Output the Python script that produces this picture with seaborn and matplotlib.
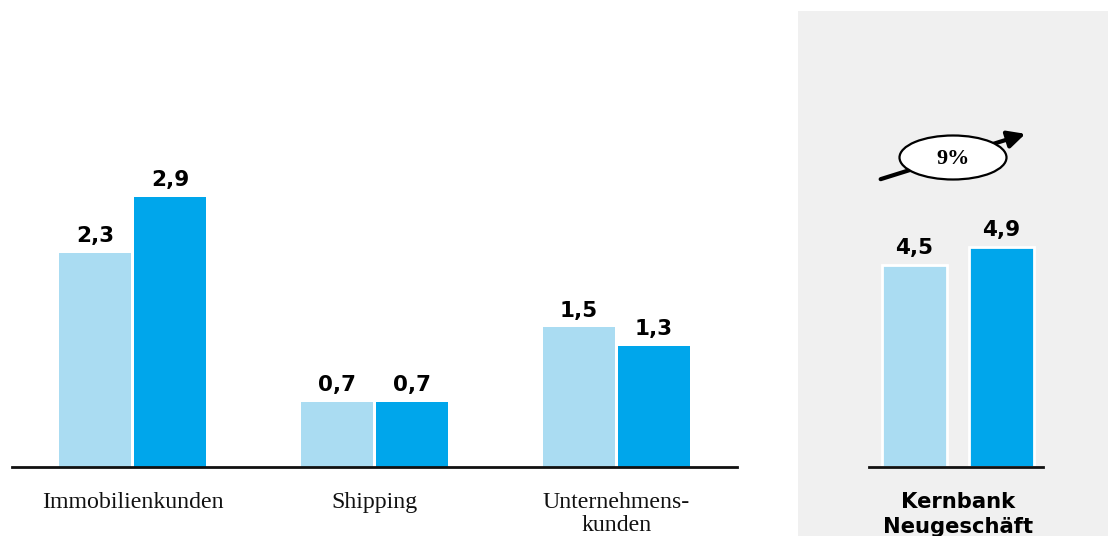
import matplotlib
matplotlib.use("Agg")
import matplotlib.pyplot as plt
from matplotlib.patches import Rectangle, Ellipse, FancyArrowPatch
import seaborn as sns
import pandas as pd

# ---- data ----
categories = ["Immobilienkunden", "Shipping", "Unternehmens-\nkunden"]
periods = ["Vorjahr", "Berichtsjahr"]
values_prev = [2.3, 0.7, 1.5]
values_curr = [2.9, 0.7, 1.3]
core_category = "Kernbank\nNeugeschäft"
core_values = [4.5, 4.9]
growth_label = "9%"

colors = ["#aadcf2", "#00a6eb"]

df_left = pd.DataFrame({
    "Kategorie": categories * 2,
    "Periode": [periods[0]] * 3 + [periods[1]] * 3,
    "Wert": values_prev + values_curr,
})
df_right = pd.DataFrame({
    "Kategorie": [core_category] * 2,
    "Periode": periods,
    "Wert": core_values,
})

sns.set_style("white")
W, H = 1111, 536
fig = plt.figure(figsize=(W / 100, H / 100), dpi=100)
fig.patch.set_facecolor("white")

# grey panel behind the right chart
fig.patches.append(Rectangle((798 / W, 0), (1108 - 798) / W, (H - 11) / H,
                             transform=fig.transFigure, facecolor="#f0f0f0",
                             edgecolor="none", zorder=-5))

def fmt(v):
    return f"{v:.1f}".replace(".", ",")

val_font = dict(family="DejaVu Sans", weight="bold", size=15.5, color="black")
serif = ["Liberation Serif", "DejaVu Serif"]

# ---- left chart ----
axL = fig.add_axes([12 / W, 69 / H, 725 / W, 400 / H])
sns.barplot(data=df_left, x="Kategorie", y="Wert", hue="Periode",
            palette=colors, width=0.62, gap=0.04, ax=axL, legend=False,
            saturation=1, linewidth=0)
axL.set_xlim(-0.5, 2.5)
axL.set_ylim(0, 4.3)
axL.set_facecolor("none")
for c in axL.containers:
    axL.bar_label(c, labels=[fmt(v) for v in c.datavalues], padding=5, **val_font)
for s in ["top", "right", "left"]:
    axL.spines[s].set_visible(False)
axL.spines["bottom"].set_linewidth(2)
axL.spines["bottom"].set_color("#111111")
axL.set_yticks([])
axL.set_xlabel("")
axL.set_ylabel("")
axL.tick_params(axis="x", length=0, pad=18, colors="#111111")
for t in axL.get_xticklabels():
    t.set_fontfamily(serif)
    t.set_fontsize(17.2)
    t.set_linespacing(1.12)
    t.set_color("#111111")

# ---- right chart ----
axR = fig.add_axes([869 / W, 69 / H, 174 / W, 400 / H])
sns.barplot(data=df_right, x="Kategorie", y="Wert", hue="Periode",
            palette=colors, width=1.0, gap=0.25, ax=axR, legend=False,
            saturation=1, edgecolor="white", linewidth=2)
axR.set_xlim(-0.51, 0.49)
axR.set_ylim(0, 8.9)
axR.set_facecolor("none")
for c in axR.containers:
    axR.bar_label(c, labels=[fmt(v) for v in c.datavalues], padding=5, **val_font)
for s in ["top", "right", "left"]:
    axR.spines[s].set_visible(False)
axR.spines["bottom"].set_linewidth(2)
axR.spines["bottom"].set_color("#111111")
axR.set_yticks([])
axR.set_xlabel("")
axR.set_ylabel("")
axR.tick_params(axis="x", length=0, pad=18)
for t in axR.get_xticklabels():
    t.set_fontfamily("DejaVu Sans")
    t.set_fontweight("bold")
    t.set_fontsize(15.2)
    t.set_linespacing(1.3)
    t.set_color("black")

# ---- growth arrow with ellipse ----
def fx(px):
    return px / W

def fy(py):
    return 1 - py / H

arrow = FancyArrowPatch((fx(878), fy(180)), (fx(1028), fy(133)),
                        transform=fig.transFigure, arrowstyle="-|>",
                        mutation_scale=26, linewidth=3, color="black", zorder=5)
fig.patches.append(arrow)
ell = Ellipse((fx(953), fy(157.5)), 107 / W, 44 / H, transform=fig.transFigure,
              facecolor="white", edgecolor="black", linewidth=1.6, zorder=6)
fig.patches.append(ell)
fig.text(fx(953), fy(159), growth_label, ha="center", va="center",
         fontfamily=serif, fontweight="bold", fontsize=16, color="black", zorder=7)

fig.savefig("out.png", dpi=100, facecolor=fig.get_facecolor())
